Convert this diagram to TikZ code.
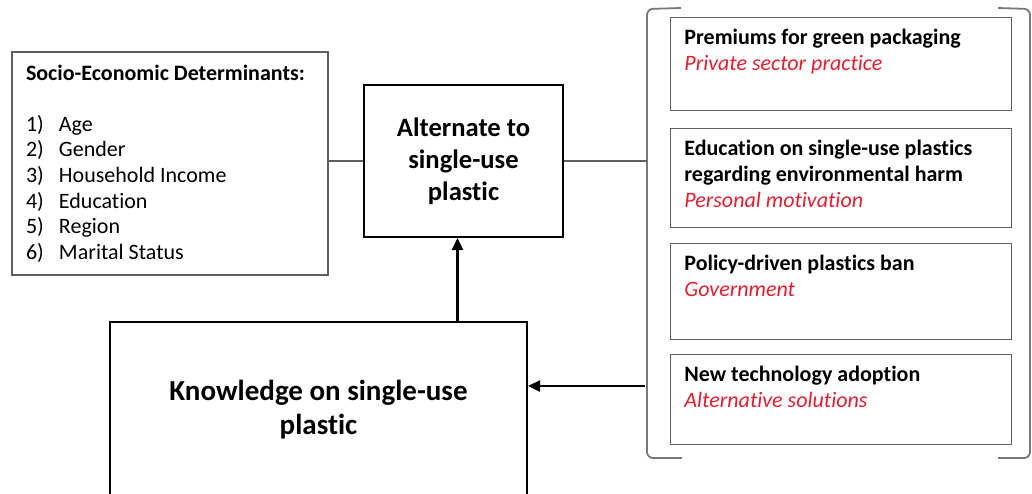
\documentclass[tikz,border=0pt]{standalone}
\usepackage{fontspec}
\setmainfont[Ligatures=NoCommon]{Carlito}
\usetikzlibrary{arrows.meta}
\definecolor{optred}{RGB}{226,30,48}
\definecolor{linegray}{RGB}{95,95,95}
\definecolor{brkgray}{RGB}{120,120,120}
\tikzset{
  sebox/.style={draw=linegray,line width=0.8pt,minimum width=158pt,minimum height=111.5pt,
    inner xsep=7pt,text width=144pt,align=flush left,font=\fontsize{11}{12.8}\selectfont},
  mainbox/.style={draw=black,line width=1pt,align=center,font=\bfseries},
  optbox/.style={draw=linegray,line width=0.7pt,anchor=north west,minimum width=170.5pt},
  opttext/.style={anchor=north west,inner sep=0pt,align=left,font=\fontsize{11}{13}\selectfont\bfseries},
  link/.style={draw=linegray,line width=0.6pt},
  brk/.style={draw=brkgray,line width=0.9pt,rounded corners=3pt},
  arr/.style={draw=black,line width=1.2pt,-{Triangle[length=6pt,width=5.5pt]}}
}
\newcommand\itm[1]{\makebox[16.5pt][l]{#1}}
\newcommand\optsub[1]{\mdseries\itshape\color{optred}#1}

\begin{document}
\begin{tikzpicture}[x=0.5pt,y=-0.5pt]
  \useasboundingbox (0,0) rectangle (1032,493);
  \clip (0,0) rectangle (1032,493);

  % left: determinants
  \node[sebox] (socio) at (170,163.5) {\textbf{Socio-Economic Determinants:}\\[12.8pt]
    \itm{1)}Age\\ \itm{2)}Gender\\ \itm{3)}Household Income\\
    \itm{4)}Education\\ \itm{5)}Region\\ \itm{6)}Marital Status};

  % centre boxes
  \node[mainbox,minimum width=99.5pt,minimum height=76pt,
        font=\fontsize{13.3}{16}\selectfont\bfseries] (alt) at (463.5,161)
        {Alternate to\\single-use\\plastic};
  \node[mainbox,minimum width=208.5pt,minimum height=88pt,
        font=\fontsize{14.5}{17}\selectfont\bfseries] (know) at (318.5,410)
        {Knowledge on single-use\\plastic};

  % right: options inside the bracket
  \foreach \n/\ytop/\boxh/\txt in {
      1/17/93/{Premiums for green packaging\\\optsub{Private sector practice}},
      2/128/99/{Education on single-use plastics\\regarding environmental harm\\\optsub{Personal motivation}},
      3/243/96/{Policy-driven plastics ban\\\optsub{Government}},
      4/354/90/{New technology adoption\\\optsub{Alternative solutions}}}
  {
    \node[optbox,minimum height=\boxh*0.5pt] (box-\n) at (670,\ytop) {};
    \node[opttext] (txt-\n) at ([shift={(14,12)}]box-\n.north west) {\txt};
  }

  \coordinate (brk-nw) at (647,9);
  \coordinate (brk-sw) at (647,458);
  \coordinate (brk-ne) at (1030,9);
  \coordinate (brk-se) at (1030,458);
  \coordinate (arr-in) at (645,386);
  \draw[brk] (681,8) -- (brk-nw) -- (brk-sw) -- (682,458);
  \draw[brk] (998,8) -- (brk-ne) -- (brk-se) -- (998,458);

  % connectors
  \draw[link] (socio.east |- alt.west) -- (alt.west);
  \draw[link] (alt.east) -- (alt.east -| brk-nw);
  \draw[arr] ([xshift=-3pt]alt.south |- know.north) -- ([xshift=-3pt]alt.south);
  \draw[arr] (arr-in) -- (know.east |- arr-in);
\end{tikzpicture}
\end{document}
